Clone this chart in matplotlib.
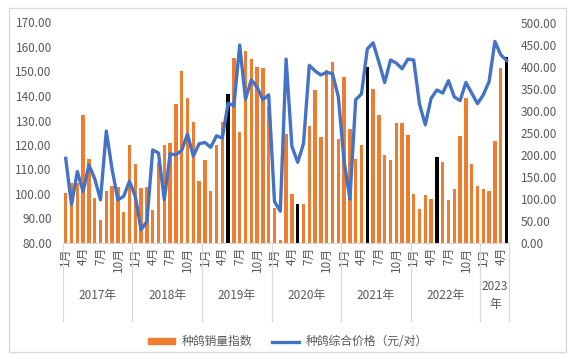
import matplotlib
matplotlib.use('Agg')
import matplotlib.pyplot as plt
import matplotlib.patches as mpatches
from matplotlib.lines import Line2D
import matplotlib.transforms as mtransforms
import numpy as np
import pandas as pd

plt.rcParams['font.family'] = ['Noto Sans CJK SC', 'DejaVu Sans']

# ─── Datos ───────────────────────────────────────────────────────────────────
meses = pd.period_range('2017-01', '2023-05', freq='M')

indice_ventas = [
    100.5, 104.4, 104.5, 132.2, 114.3, 98.2, 89.4, 101.2, 103.3, 102.7, 92.8, 120.1,   # 2017
    112.4, 102.5, 102.8, 93.5, 113.0, 120.0, 121.0, 136.6, 150.2, 139.1, 129.2, 105.4,  # 2018
    114.0, 101.1, 120.1, 129.3, 140.9, 155.5, 125.4, 158.2, 155.2, 151.8, 151.4, 136.0,  # 2019
    94.4, 81.2, 124.4, 100.0, 96.1, 95.8, 127.9, 142.4, 123.2, 150.7, 154.0, 122.4,     # 2020
    147.7, 126.5, 114.3, 119.8, 152.0, 142.8, 132.1, 116.0, 114.0, 128.9, 128.9, 124.2,  # 2021
    100.1, 94.0, 99.7, 97.9, 114.9, 113.0, 97.7, 102.2, 123.5, 139.0, 112.4, 103.1,     # 2022
    102.2, 101.1, 121.5, 151.4, 155.9,                                                   # 2023
]

precio = [
    192, 87, 162, 117, 177, 146, 98, 254, 167, 98, 106, 140,        # 2017
    106, 30, 49, 211, 204, 98, 202, 200, 210, 247, 197, 225,        # 2018
    228, 217, 243, 238, 317, 311, 449, 326, 370, 353, 325, 336,     # 2019
    94, 72, 417, 219, 183, 225, 403, 390, 381, 387, 384, 332,       # 2020
    185, 100, 325, 338, 440, 454, 410, 364, 415, 408, 395, 417,     # 2021
    415, 315, 268, 328, 347, 340, 368, 331, 323, 364, 340, 316,     # 2022
    336, 366, 457, 427, 414,                                         # 2023
]

# Meses resaltados en negro
meses_negros = ['2019-05', '2020-05', '2021-05', '2022-05', '2023-05']

etiquetas_mes = [1, 4, 7, 10]

# ─── Estilo ──────────────────────────────────────────────────────────────────
NARANJA = '#ED7D31'
AZUL = '#4472C4'
GRIS_TXT = '#595959'
GRIS_LINEA = '#D9D9D9'
FS = 8.5

fig = plt.figure(figsize=(5.76, 3.59), dpi=100)
ax = fig.add_axes([62.8 / 576, 1 - 243 / 359, 446.6 / 576, 220.5 / 359])
ax2 = ax.twinx()

x = np.arange(len(meses))
negros = set(meses_negros)
colores = ['black' if str(p) in negros else NARANJA for p in meses]
ax.bar(x, indice_ventas, width=0.6, color=colores, zorder=2)
ax2.plot(x, precio, color=AZUL, linewidth=2.4, solid_joinstyle='round', zorder=3)

ax.set_xlim(-0.5, len(meses) - 0.5)
ax.set_ylim(80, 170)
ax.set_yticks(np.arange(80, 171, 10))
ax.set_yticklabels([f'{v:.2f}' for v in np.arange(80, 171, 10)])
ax2.set_ylim(0, 500)
ax2.set_yticks(np.arange(0, 501, 50))
ax2.set_yticklabels([f'{v:.2f}' for v in np.arange(0, 501, 50)])

for a in (ax, ax2):
    for s in a.spines.values():
        s.set_visible(False)
    a.tick_params(axis='y', length=0, labelsize=FS, labelcolor=GRIS_TXT, pad=8)
ax.spines['bottom'].set_visible(True)
ax.spines['bottom'].set_color(GRIS_LINEA)

# Etiquetas de mes (rotadas)
pos_ticks = [i for i, p in enumerate(meses) if p.month in etiquetas_mes]
ax.set_xticks(pos_ticks)
ax.set_xticklabels([f'{meses[i].month}月' for i in pos_ticks], rotation=90)
ax.tick_params(axis='x', length=0, labelsize=FS, labelcolor=GRIS_TXT, pad=3)

# Separadores y etiquetas de año
trans = mtransforms.blended_transform_factory(ax.transData, ax.transAxes)
anios = sorted(set(p.year for p in meses))
for anio in anios:
    idx = [i for i, p in enumerate(meses) if p.year == anio]
    ini, fin = idx[0] - 0.5, idx[-1] + 0.5
    for xb in (ini, fin):
        ax.add_line(Line2D([xb, xb], [0, -0.355], transform=trans,
                           color=GRIS_LINEA, linewidth=0.8, clip_on=False))
    etiqueta = f'{anio}年' if len(idx) > 6 else f'{anio}\n年'
    ax.text((ini + fin) / 2, -0.24, etiqueta, transform=trans, ha='center',
            va='center', fontsize=FS, color=GRIS_TXT, linespacing=1.5)

# Leyenda
handles = [mpatches.Patch(color=NARANJA, label='种鸽销量指数'),
           Line2D([], [], color=AZUL, linewidth=2.4, label='种鸽综合价格（元/对）')]
leg = fig.legend(handles=handles, loc='center', bbox_to_anchor=(0.5, 0.048),
                 ncol=2, frameon=False, fontsize=FS, handlelength=2.3,
                 handleheight=0.45, columnspacing=1.6, handletextpad=0.6)
for t in leg.get_texts():
    t.set_color(GRIS_TXT)

# Marco exterior
fig.patches.append(mpatches.Rectangle((9 / 576, 1 - 352 / 359), 557 / 576, 344 / 359,
                                      transform=fig.transFigure, fill=False,
                                      edgecolor=GRIS_LINEA, linewidth=1))

plt.savefig('out.png', dpi=100, facecolor='white')
plt.close()
